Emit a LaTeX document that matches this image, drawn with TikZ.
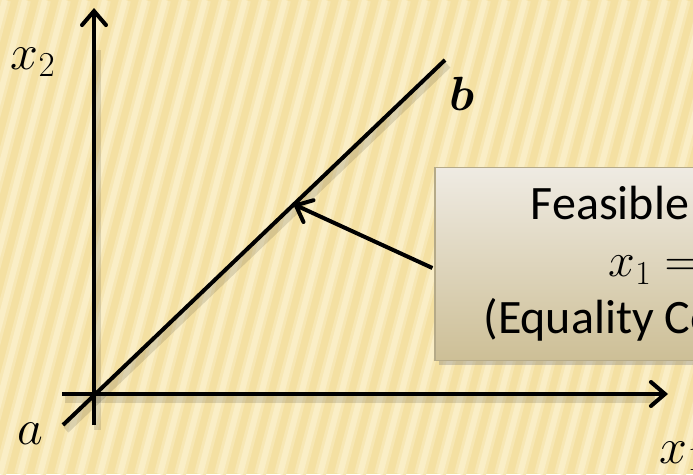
\documentclass[tikz,border=0pt]{standalone}
\usepackage{fix-cm}
\usepackage{amsmath,bm}
\usepackage{fontspec}
\newfontfamily\boxfont{Carlito}
\usetikzlibrary{arrows.meta,shadows}
\definecolor{bgyellow}{HTML}{F4E0A2}
\definecolor{stripemid}{HTML}{F7E7B4}
\definecolor{stripelight}{HTML}{FAEEC6}
\definecolor{boxtop}{HTML}{EFEBE3}
\definecolor{boxbottom}{HTML}{CDBF96}
\definecolor{boxline}{HTML}{B5AA88}
\tikzset{
  axis/.style={line width=4pt, -{Straight Barb[length=14pt,width=24pt,line cap=round]}},
  thickline/.style={line width=4pt},
  shade line/.style={line width=7pt, black, opacity=0.12},
  feasbox/.style={draw=boxline, line width=1.2pt, top color=boxtop, bottom color=boxbottom,
    minimum width=494pt, minimum height=193pt, align=center,
    font=\boxfont\fontsize{48}{57}\selectfont,
    drop shadow={opacity=0.35, shadow xshift=4pt, shadow yshift=-4pt}},
  biglabel/.style={font=\fontsize{50}{60}\selectfont}
}

\begin{document}
\begin{tikzpicture}[x=1pt,y=-1pt]
  \useasboundingbox (0,0) rectangle (693,474);
  \clip (0,0) rectangle (693,474);
  % striped background
  \fill[bgyellow] (0,0) rectangle (693,474);
  \foreach \i in {-8,...,36}{
    \draw[stripemid, line width=12pt] (\i*20,474) -- (\i*20+125,0);
    \draw[stripelight, line width=6pt] (\i*20,474) -- (\i*20+125,0);
  }

  \coordinate (origin) at (94,394);
  \coordinate (ytip) at (94,8);
  \coordinate (ybottom) at (94,425);
  \coordinate (xstart) at (62,394);
  \coordinate (xtip) at (668,394);
  \coordinate (lineA) at (63,425);
  \coordinate (lineB) at (445,60);
  \coordinate (hit) at (293,204);

  % soft shadows of the lines
  \draw[shade line] (ybottom) ++(3,5) -- ++(0,-380);
  \draw[shade line] (xstart) ++(3,5) -- ++(590,0);
  \draw[shade line] (lineA) ++(3,5) -- ++(382,-365);

  \draw[axis] (ybottom) -- (ytip);
  \draw[axis] (xstart) -- (xtip);
  \draw[thickline] (lineA) -- (lineB);

  \node[feasbox] (region) at (682,264) {Feasible Region\\$x_1 = x_2$\\(Equality Constraint)};
  \draw[axis] (region.west) ++(-2,4) coordinate (tail) -- (hit);

  \node[biglabel] (xtwo) at (33,62) {$x_2$};
  \node[biglabel] (xone) at (682,456) {$x_1$};
  \node[biglabel] (aa) at (30,434) {$a$};
  \node[font=\fontsize{48}{58}\selectfont] (bb) at (462,94) {$\bm{b}$};
\end{tikzpicture}
\end{document}
